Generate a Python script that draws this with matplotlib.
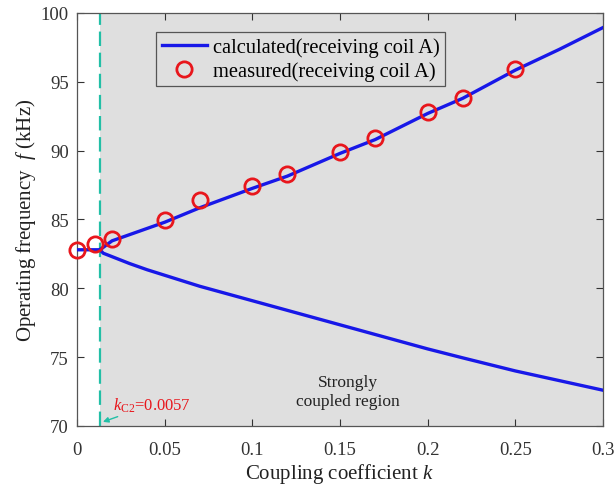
import matplotlib
matplotlib.use("Agg")
from matplotlib import pyplot as plt

# calculated curve, upper branch
k_upper = [0.0, 0.0131, 0.02, 0.03, 0.05, 0.07, 0.1, 0.12, 0.15, 0.17, 0.2, 0.22, 0.25, 0.275, 0.3]
f_upper = [82.8, 82.8, 83.45, 83.9, 84.8, 85.85, 87.26, 88.15, 89.8, 90.8, 92.7, 93.8, 95.85, 97.35, 98.94]

# calculated curve, lower branch (starts at the split point)
k_lower = [0.0131, 0.015, 0.02, 0.03, 0.04, 0.05, 0.07, 0.1, 0.12, 0.15, 0.17, 0.2, 0.22, 0.25, 0.275, 0.3]
f_lower = [82.8, 82.55, 82.3, 81.8, 81.35, 80.95, 80.15, 79.1, 78.4, 77.35, 76.65, 75.6, 74.95, 74.0, 73.3, 72.6]

# measured points
k_meas = [0.0, 0.01, 0.02, 0.05, 0.07, 0.1, 0.12, 0.15, 0.17, 0.2, 0.22, 0.25]
f_meas = [82.8, 83.2, 83.6, 84.96, 86.4, 87.45, 88.34, 89.9, 90.9, 92.8, 93.8, 95.95]

K_SPLIT = 0.0131
X_TICKS = [0, 0.05, 0.1, 0.15, 0.2, 0.25, 0.3]
X_LABELS = ["0", "0.05", "0.1", "0.15", "0.2", "0.25", "0.3"]
Y_TICKS = [70, 75, 80, 85, 90, 95, 100]

BLUE = "#1818e8"
RED = "#e8161c"
TEAL = "#22bfa6"
SHADE = "#dfdfdf"

plt.rcParams["font.family"] = ["Liberation Serif", "DejaVu Serif"]
plt.rcParams["mathtext.fontset"] = "custom"
plt.rcParams["mathtext.rm"] = "Liberation Serif"
plt.rcParams["mathtext.it"] = "Liberation Serif:italic"

fig = plt.figure(figsize=(6.14, 4.89), dpi=100)
ax = fig.add_axes([0.1254, 0.1268, 0.8566, 0.8446])

ax.axvspan(K_SPLIT, 0.3, color=SHADE, zorder=0, lw=0)
ax.axvline(K_SPLIT, color=TEAL, linestyle=(0, (6.5, 3)), lw=1.6, zorder=1)

ax.plot(k_upper, f_upper, color=BLUE, lw=2.4, zorder=3, label="calculated(receiving coil A)")
ax.plot(k_lower, f_lower, color=BLUE, lw=2.4, zorder=3)
ax.plot(k_meas, f_meas, linestyle="none", marker="o", markersize=11, markerfacecolor="none",
        markeredgecolor=RED, markeredgewidth=2.0, zorder=4, label="measured(receiving coil A)",
        clip_on=False)

ax.text(0.1546, 72.5, "Strongly\ncoupled region", ha="center", va="center", fontsize=12.5,
        linespacing=1.25, color="#222222")
ax.annotate(r"$k_{\mathrm{C2}}$=0.0057", xy=(0.0148, 70.3), xytext=(0.0205, 71.55),
            color=RED, fontsize=12, va="center", ha="left",
            arrowprops=dict(arrowstyle="-|>", color=TEAL, lw=1.0, mutation_scale=8,
                            shrinkA=0, shrinkB=0))

ax.set_xlim(0, 0.3)
ax.set_ylim(70, 100)
ax.set_xticks(X_TICKS)
ax.set_xticklabels(X_LABELS)
ax.set_yticks(Y_TICKS)
ax.tick_params(direction="in", top=True, right=True, length=5, width=0.8,
               labelsize=13.5, colors="#333333")
ax.tick_params(axis="x", pad=10.5)
ax.tick_params(axis="y", pad=6)
for spine in ax.spines.values():
    spine.set_color("#555555")
    spine.set_linewidth(0.9)

ax.set_xlabel(r"Coupling coefficient $\mathit{k}$", fontsize=15, color="#222222", labelpad=2.5)
ax.set_ylabel(r"Operating frequency  $\mathit{f}$ (kHz)", fontsize=15, color="#222222", labelpad=2)

leg = ax.legend(loc="upper left", bbox_to_anchor=(0.151, 0.953), fontsize=14.8, frameon=True,
                fancybox=False, edgecolor="#555555", facecolor=SHADE, framealpha=1,
                handlelength=2.2, handletextpad=0.3, borderpad=0.25, labelspacing=0.2,
                borderaxespad=0)
leg.get_frame().set_linewidth(0.9)

fig.savefig("out.png", dpi=100)
